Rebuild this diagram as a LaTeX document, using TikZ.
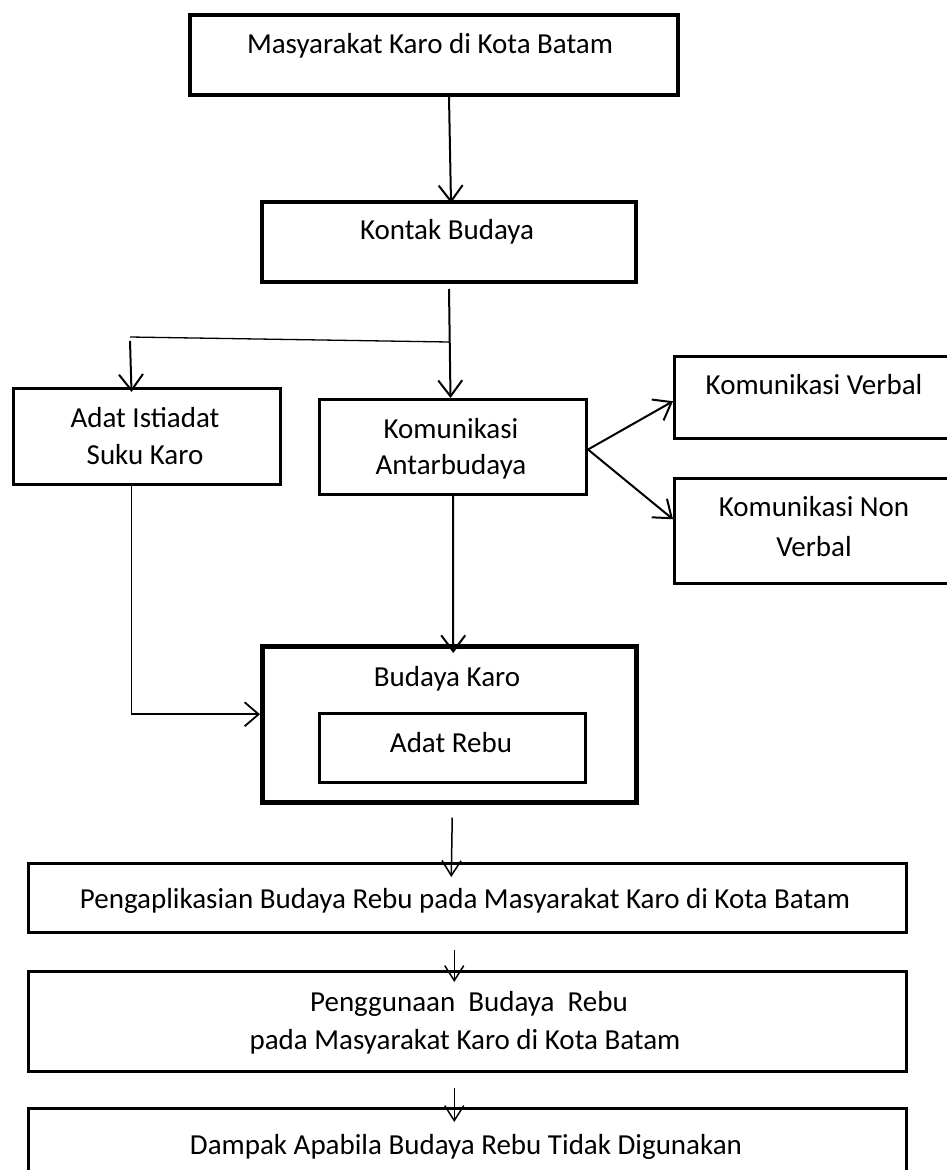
\documentclass[tikz,border=0pt]{standalone}
\usepackage{fontspec}
\setmainfont{Carlito}
\usetikzlibrary{arrows.meta,calc}
\begin{document}
\begin{tikzpicture}[x=1pt,y=-1pt,
  bx/.style={draw=black, rectangle, inner sep=0pt, anchor=north west, line width=#1},
  bx/.default=2.5pt,
  txt/.style={anchor=base, inner sep=0pt, font=\fontsize{29}{37}\selectfont},
  arr/.style={line width=2pt, -{Straight Barb[length=16pt,width=24pt,line width=2pt]}},
  arrlow/.style={line width=1.5pt, -{Straight Barb[length=15pt,width=19pt,line width=1.5pt]}},
  thinline/.style={line width=1.3pt},
  feedline/.style={line width=1.6pt, -{Straight Barb[length=14pt,width=24pt,line width=1.8pt]}}
]
\useasboundingbox (0,0) rectangle (947,1170);
% boxes
\node[bx=4pt, minimum width=488pt, minimum height=80pt] (b1) at (188,13) {};
\node[bx=4pt, minimum width=374pt, minimum height=80pt] (b2) at (260,200) {};
\node[bx=3pt, minimum width=267pt, minimum height=96pt] (bA) at (12,387) {};
\node[bx=3pt, minimum width=267pt, minimum height=95pt] (bK) at (318,398) {};
\node[bx=2.5pt, minimum width=282pt, minimum height=82pt] (bV) at (673,355) {};
\node[bx=2.5pt, minimum width=282pt, minimum height=105pt] (bN) at (673,477) {};
\node[bx=4.5pt, minimum width=374pt, minimum height=156pt] (bB) at (260,644) {};
\node[bx=3pt, minimum width=266pt, minimum height=69pt] (bR) at (318,712) {};
\node[bx=2.5pt, minimum width=878pt, minimum height=69pt] (bP) at (27,862) {};
\node[bx=2.5pt, minimum width=878pt, minimum height=100pt] (bG) at (27,970) {};
\node[bx=2.5pt, minimum width=878pt, minimum height=90pt] (bD) at (27,1107) {};
% texts
\node[txt] (t1) at (430,53) {Masyarakat Karo di Kota Batam};
\node[txt] (t2) at (447,239) {Kontak Budaya};
\node[txt] (tA1) at (145,427) {Adat Istiadat};
\node[txt] (tA2) at (145,464) {Suku Karo};
\node[txt] (tK1) at (451,438) {Komunikasi};
\node[txt] (tK2) at (451,474) {Antarbudaya};
\node[txt] (tV) at (814,394) {Komunikasi Verbal};
\node[txt] (tN1) at (814,516) {Komunikasi Non};
\node[txt] (tN2) at (814,556) {Verbal};
\node[txt] (tB) at (447,686) {Budaya Karo};
\node[txt] (tR) at (451,752) {Adat Rebu};
\node[txt] (tP) at (465,908) {Pengaplikasian Budaya Rebu pada Masyarakat Karo di Kota Batam};
\node[txt] (tG1) at (469,1011) {Penggunaan\ \ Budaya\ \ Rebu};
\node[txt] (tG2) at (465,1049) {pada Masyarakat Karo di Kota Batam};
\node[txt] (tD) at (466,1154) {Dampak Apabila Budaya Rebu Tidak Digunakan};
% connectors
\draw[arr] ([xshift=15pt]b1.south) -- ([xshift=2pt,yshift=-3pt]b2.north);
\coordinate (j1) at (449,342);
\coordinate (j2) at (130,337);
\coordinate (j3) at (130,341);
\draw[arr] ([yshift=-5pt]b2.south) -- ([xshift=-2.5pt]bK.north);
\draw[thinline] (j1) -- (j2);
\draw[arr] (j3) -- ([xshift=-15.5pt,yshift=-5pt]bA.north);
\draw[arr] ([yshift=-2.5pt]bK.east) -- ([yshift=-4pt]bV.west);
\draw[arr] ([yshift=-2.5pt]bK.east) -- ([yshift=11.5pt]bN.west);
\draw[arr] (bK.south) -- ([xshift=4pt,yshift=-9pt]bB.north);
\draw[feedline] ([xshift=-15.5pt]bA.south) |- ([yshift=10pt]bB.west);
\draw[arrlow] ([xshift=3pt,yshift=-13pt]bB.south) -- ([xshift=-16pt,yshift=-15pt]bP.north);
\draw[arrlow] ([xshift=-13pt,yshift=-16pt]bP.south) -- ([xshift=-13pt,yshift=-12pt]bG.north);
\draw[arrlow] ([xshift=-13pt,yshift=-15pt]bG.south) -- ([xshift=-13pt,yshift=-15pt]bD.north);
\end{tikzpicture}
\end{document}
